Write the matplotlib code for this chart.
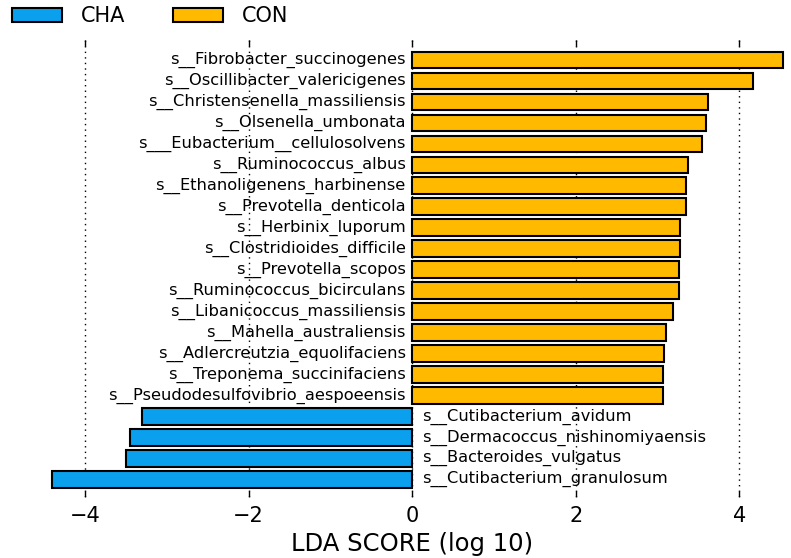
import numpy as np
import matplotlib
matplotlib.use("Agg")
import matplotlib.pyplot as plt
from matplotlib.patches import Patch

# ── DATA (top to bottom as drawn) ─────────────────────────────────────────
taxa = [
    "s__Fibrobacter_succinogenes",
    "s__Oscillibacter_valericigenes",
    "s__Christensenella_massiliensis",
    "s__Olsenella_umbonata",
    "s___Eubacterium__cellulosolvens",
    "s__Ruminococcus_albus",
    "s__Ethanoligenens_harbinense",
    "s__Prevotella_denticola",
    "s__Herbinix_luporum",
    "s__Clostridioides_difficile",
    "s__Prevotella_scopos",
    "s__Ruminococcus_bicirculans",
    "s__Libanicoccus_massiliensis",
    "s__Mahella_australiensis",
    "s__Adlercreutzia_equolifaciens",
    "s__Treponema_succinifaciens",
    "s__Pseudodesulfovibrio_aespoeensis",
    "s__Cutibacterium_avidum",
    "s__Dermacoccus_nishinomiyaensis",
    "s__Bacteroides_vulgatus",
    "s__Cutibacterium_granulosum",
]
lda = [4.54, 4.17, 3.62, 3.60, 3.54, 3.37, 3.35, 3.35, 3.28, 3.28, 3.27,
       3.27, 3.19, 3.11, 3.08, 3.07, 3.07,
       -3.30, -3.45, -3.50, -4.41]
groups = ["CON"] * 17 + ["CHA"] * 4

group_names = ["CHA", "CON"]
group_colors = {"CHA": "#0aa0ee", "CON": "#ffba00"}

# ── PLOT ──────────────────────────────────────────────────────────────────
fig = plt.figure(figsize=(7.91, 5.58), dpi=100)
ax = fig.add_axes([0.0455, 0.109, 0.951, 0.819])

n = len(taxa)
ypos = np.arange(n)[::-1]
colors = [group_colors[g] for g in groups]
ax.barh(ypos, lda, height=0.8, color=colors, edgecolor="black", linewidth=1.5, zorder=2)

# species labels on the opposite side of zero
for y, v, name in zip(ypos, lda, taxa):
    if v > 0:
        ax.text(-0.08, y, name, ha="right", va="center", fontsize=11.7, zorder=3)
    else:
        ax.text(0.12, y, name, ha="left", va="center", fontsize=11.7, zorder=3)

ax.set_xlim(-4.6, 4.6)
ax.set_ylim(-0.85, n - 0.05)
ax.set_xticks([-4, -2, 0, 2, 4])
ax.set_yticks([])
ax.tick_params(axis="x", which="both", top=True, bottom=True, labeltop=False,
               direction="in", length=4.5, width=1, labelsize=15, pad=6)
for s in ax.spines.values():
    s.set_visible(False)
ax.grid(axis="x", linestyle=(0, (1, 3)), color="black", linewidth=1, zorder=1)
ax.set_xlabel("LDA SCORE (log 10)", fontsize=17.5, labelpad=5)

handles = [Patch(facecolor=group_colors[g], edgecolor="black", linewidth=1.5, label=g)
           for g in group_names]
fig.legend(handles=handles, loc="upper left", bbox_to_anchor=(-0.008, 1.022), ncol=2,
           frameon=False, fontsize=15, handlelength=2.4, handleheight=0.65,
           columnspacing=2.3, handletextpad=0.9)

fig.savefig("out.png", dpi=100)
